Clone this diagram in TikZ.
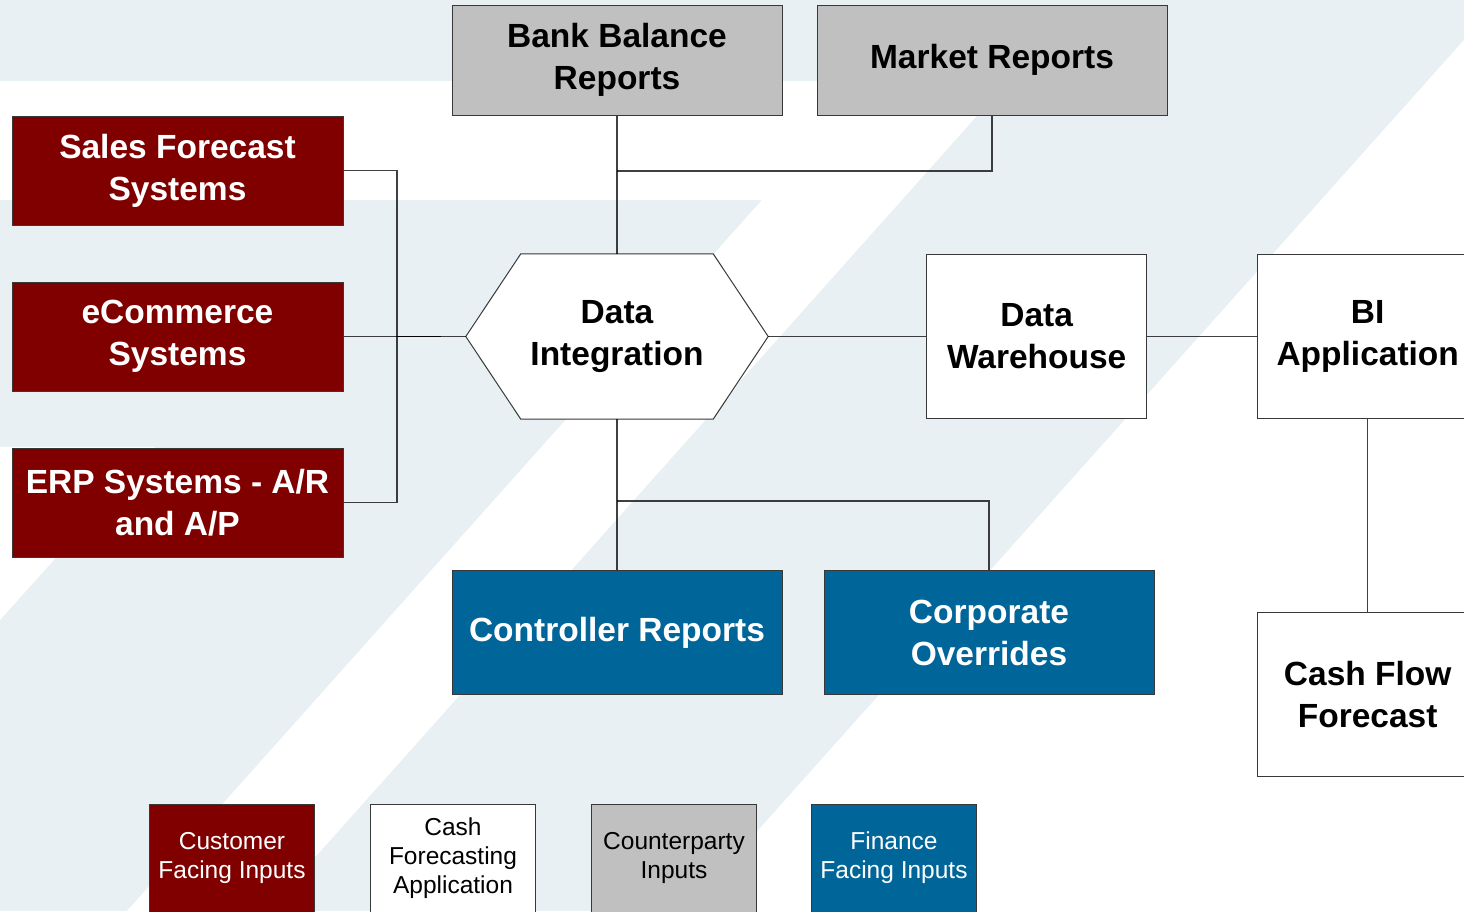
\documentclass[tikz,border=0pt]{standalone}
\usepackage{xcolor}
\usepackage{fontspec}
\setmainfont{Liberation Sans}
\usepackage{tikz}
\usetikzlibrary{positioning,calc,backgrounds}

\definecolor{paneltint}{HTML}{E8F0F4}
\definecolor{srcred}{HTML}{800000}
\definecolor{rptblue}{HTML}{006699}
\definecolor{feedgray}{HTML}{C0C0C0}
\definecolor{rulegray}{HTML}{383838}

\begin{document}
\begin{tikzpicture}[
        x=1pt, y=-1pt,
        block/.style={rectangle, draw=rulegray, line width=1pt, inner sep=0pt, align=center, font=\bfseries\fontsize{33.5}{42}\selectfont},
        src/.style={block, fill=srcred, text=white, minimum width=331pt, minimum height=109pt},
        feed/.style={block, fill=feedgray, minimum height=110pt},
        rpt/.style={block, fill=rptblue, text=white, minimum width=330pt, minimum height=124pt},
        store/.style={block, fill=white, minimum width=220pt, minimum height=164pt},
        hexcore/.style={rectangle, inner sep=0pt, align=center, minimum width=192pt, minimum height=165pt, font=\bfseries\fontsize{33.5}{42}\selectfont},
        key/.style={rectangle, draw=rulegray, line width=1pt, inner sep=0pt, align=center, minimum width=165pt, minimum height=108pt, font=\fontsize{24.5}{29}\selectfont},
        link/.style={draw=black, draw opacity=0.75, line width=1.1pt}
    ]
        \useasboundingbox (0,0) rectangle (1464,911);
        \clip (0,0) rectangle (1464,911);

        % Source systems
        \node[src] (ecom) at (177.5,336.5) {eCommerce\\Systems};
        \node[src, above=56pt of ecom] (sales) {Sales Forecast\\Systems};
        \node[src, below=56pt of ecom] (erp) {ERP Systems - A/R\\and A/P};

        % Integration, warehouse and BI
        \node[hexcore] (dint) at (617,336.5) {Data\\Integration};
        \coordinate (dint-w) at ($(dint.west)+(-55,0)$);
        \coordinate (dint-e) at ($(dint.east)+(55,0)$);
        \node[store, right=158pt of dint-e] (dwh) {Data\\Warehouse};
        \node[store, right=110pt of dwh] (bi) {BI\\Application};
        \node[store, below=193pt of bi] (cff) {Cash Flow\\Forecast};

        % Bank and market feeds
        \node[feed, minimum width=330pt, above=138pt of dint] (bank) {Bank Balance\\Reports};
        \node[feed, minimum width=350pt, right=34pt of bank] (market) {Market Reports};

        % Reports
        \node[rpt, below=151pt of dint] (ctrl) {Controller Reports};
        \node[rpt, right=41pt of ctrl] (corp) {Corporate\\Overrides};

        % Legend row
        \node[key, fill=srcred, text=white] (kcust) at (232,858) {Customer\\Facing Inputs};
        \node[key, fill=white, right=55pt of kcust] (kcfa) {Cash\\Forecasting\\Application};
        \node[key, fill=feedgray, right=55pt of kcfa] (kcpty) {Counterparty\\Inputs};
        \node[key, fill=rptblue, text=white, right=54pt of kcpty] (kfin) {Finance\\Facing Inputs};

        % Junctions
        \coordinate (topjoin) at (617,171);
        \coordinate (botjoin) at (617,501);
        \coordinate (lbus) at (397,336.5);
        \coordinate (ljoin) at (441,336.5);

        % Connectors
        \draw[link] (bank) -- (dint);
        \draw[link] (market) |- (topjoin);
        \draw[link] (sales) -| (lbus) -- (ljoin);
        \draw[link] (erp) -| (lbus) -- (ljoin);
        \draw[link] (ecom) -- (dint-w);
        \draw[link] (dint-e) -- (dwh);
        \draw[link] (dwh) -- (bi);
        \draw[link] (bi) -- (cff);
        \draw[link] (dint) -- (ctrl);
        \draw[link] (corp) |- (botjoin);

        % Backdrop stripes and hexagon outline
        \begin{scope}[on background layer]
            \fill[paneltint] (0,0) rectangle (1464,911);
            \fill[white] (0,81) -- (1008,81) -- (267,911) -- (127,911) -- (762,200) -- (0,200) -- cycle;
            \fill[white] (0,447) -- (155,447) -- (0,620) -- cycle;
            \fill[white] (1464,40) -- (686,911) -- (1464,911) -- cycle;
            \filldraw[fill=white, draw=rulegray, line width=1pt]
                (dint.north west) -- (dint.north east) -- (dint-e) -- (dint.south east)
                -- (dint.south west) -- (dint-w) -- cycle;
        \end{scope}
    \end{tikzpicture}
\end{document}
